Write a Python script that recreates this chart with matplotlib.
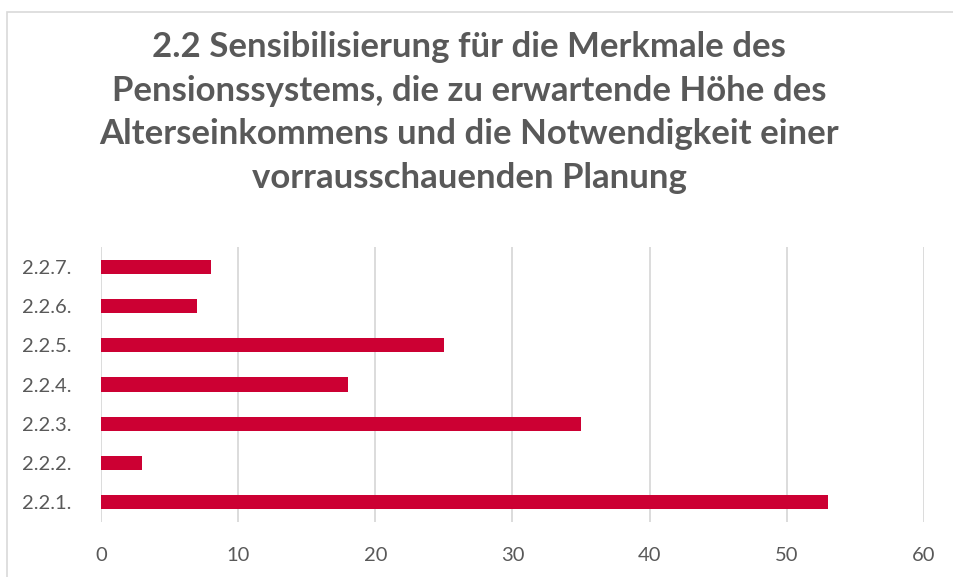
import matplotlib
matplotlib.use("Agg")
import matplotlib.pyplot as plt
from matplotlib.patches import Rectangle

# ---------- data ----------
CATEGORIES = ["2.2.1.", "2.2.2.", "2.2.3.", "2.2.4.", "2.2.5.", "2.2.6.", "2.2.7."]
VALUES = [53, 3, 35, 18, 25, 7, 8]
X_TICKS = [0, 10, 20, 30, 40, 50, 60]

TITLE = ("2.2 Sensibilisierung für die Merkmale des\n"
         "Pensionssystems, die zu erwartende Höhe des\n"
         "Alterseinkommens und die Notwendigkeit einer\n"
         "vorrausschauenden Planung")

BAR_COLOR = "#CC0033"
TEXT_COLOR = "#595959"
GRID_COLOR = "#D9D9D9"

plt.rcParams["font.family"] = ["Lato", "DejaVu Sans"]

W, H = 954, 577
fig = plt.figure(figsize=(W / 100, H / 100), dpi=100)

# chart border (runs off the right / bottom edge like the source)
fig.patches.append(Rectangle((7 / W, -0.05), 1.1, 1 - 12 / H + 0.05,
                             transform=fig.transFigure, fill=False,
                             edgecolor=GRID_COLOR, linewidth=1.2))

ax = fig.add_axes([101 / W, 1 - 522 / H, (924 - 101) / W, (522 - 247) / H])

ax.barh(range(len(CATEGORIES)), VALUES, height=0.36, color=BAR_COLOR, zorder=3)

ax.set_xlim(0, 60)
ax.set_ylim(-0.5, len(CATEGORIES) - 0.5)
ax.set_xticks(X_TICKS)
ax.set_yticks(range(len(CATEGORIES)))
ax.set_yticklabels(CATEGORIES)
ax.tick_params(axis="both", length=0, labelsize=14.5, colors=TEXT_COLOR)
ax.tick_params(axis="x", pad=18)
ax.tick_params(axis="y", pad=21)
ax.grid(axis="x", color=GRID_COLOR, linewidth=1.3, zorder=0)
for s in ax.spines.values():
  s.set_visible(False)

fig.text(0.492, 1 - 31 / H, TITLE, ha="center", va="top", fontsize=25,
         fontweight="bold", color=TEXT_COLOR, linespacing=1.45)

fig.savefig("out.png", dpi=100)
